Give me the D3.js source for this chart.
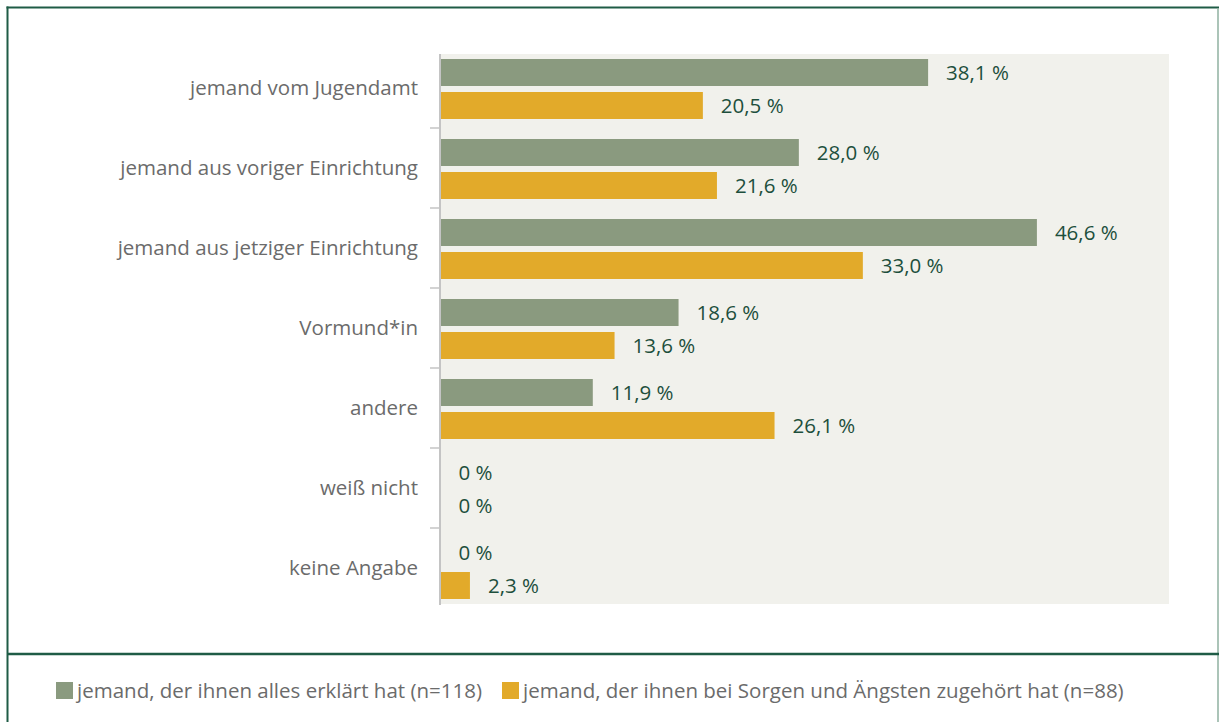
<!DOCTYPE html>
<html>
<head>
<meta charset="utf-8">
<script src="https://cdn.jsdelivr.net/npm/d3@7"></script>
<style>
  html, body { margin: 0; padding: 0; background: #ffffff; }
  svg { display: block; }
</style>
</head>
<body>
<svg id="chart" width="1219" height="722"></svg>
<script>
const categories = [
  "jemand vom Jugendamt",
  "jemand aus voriger Einrichtung",
  "jemand aus jetziger Einrichtung",
  "Vormund*in",
  "andere",
  "weiß nicht",
  "keine Angabe"
];
const seriesNames = [
  "jemand, der ihnen alles erklärt hat (n=118)",
  "jemand, der ihnen bei Sorgen und Ängsten zugehört hat (n=88)"
];
const explained = [38.1, 28.0, 46.6, 18.6, 11.9, 0, 0];
const listened = [20.5, 21.6, 33.0, 13.6, 26.1, 0, 2.3];
const seriesColors = ["#8a9a7f", "#e2aa2a"];

const svg = d3.select("#chart");
const FONT = "'Open Sans', Lato, sans-serif";
const FS = 20.5;

// frame
svg.append("line").attr("x1", 7.5).attr("x2", 7.5).attr("y1", 6.5).attr("y2", 722)
  .attr("stroke", "#1f5c46").attr("stroke-width", 2);
svg.append("line").attr("x1", 6.5).attr("x2", 1219).attr("y1", 7.5).attr("y2", 7.5)
  .attr("stroke", "#1f5c46").attr("stroke-width", 2);
svg.append("line").attr("x1", 1218).attr("x2", 1218).attr("y1", 8).attr("y2", 722)
  .attr("stroke", "#8fb0a0").attr("stroke-width", 1.5);
svg.append("line").attr("x1", 7).attr("x2", 1219).attr("y1", 654).attr("y2", 654)
  .attr("stroke", "#1f5c46").attr("stroke-width", 2.5);

const x = d3.scaleLinear().domain([0, 57]).range([440.5, 1170]);
const y = d3.scaleBand().domain(categories).range([48, 608]).paddingInner(0).paddingOuter(0);
const inner = d3.scaleBand().domain([0, 1]).range([11, 71]).paddingInner(6 / 33);

// plot background
svg.append("rect").attr("x", 440).attr("y", 54).attr("width", 1169 - 440).attr("height", 604 - 54)
  .attr("fill", "#f1f1ec");

const data = categories.map((c, i) => ({ cat: c, vals: [explained[i], listened[i]] }));

const groups = svg.append("g").selectAll("g").data(data).join("g")
  .attr("transform", d => `translate(0,${y(d.cat)})`);

groups.selectAll("rect").data(d => d.vals.map((v, k) => ({ v, k }))).join("rect")
  .attr("x", x(0))
  .attr("y", d => inner(d.k))
  .attr("height", inner.bandwidth())
  .attr("width", d => x(d.v) - x(0))
  .attr("fill", d => seriesColors[d.k]);

groups.selectAll("text.val").data(d => d.vals.map((v, k) => ({ v, k }))).join("text")
  .attr("class", "val")
  .attr("x", d => x(d.v) + 18)
  .attr("y", d => inner(d.k) + inner.bandwidth() / 2)
  .attr("dy", "0.35em")
  .attr("font-family", FONT)
  .attr("font-size", FS)
  .attr("fill", "#1d4f3c")
  .text(d => d.v === 0 ? "0 %" : d3.format(".1f")(d.v).replace(".", ",") + " %");

// y axis
const yAxis = d3.axisLeft(y).tickSize(0).tickPadding(22);
const ga = svg.append("g").attr("transform", "translate(440,0)").call(yAxis);
ga.select(".domain").remove();
ga.selectAll("text").attr("font-family", FONT).attr("font-size", FS).attr("fill", "#6b6b6b");

svg.append("line").attr("x1", 440).attr("x2", 440).attr("y1", 54).attr("y2", 605)
  .attr("stroke", "#c4c4c4").attr("stroke-width", 2);
svg.append("g").selectAll("line").data(categories.slice(1)).join("line")
  .attr("x1", 430).attr("x2", 440)
  .attr("y1", d => y(d)).attr("y2", d => y(d))
  .attr("stroke", "#c4c4c4").attr("stroke-width", 1.5);

// legend
const legendX = [56, 502];
const lg = svg.append("g").selectAll("g").data(seriesNames).join("g")
  .attr("transform", (d, i) => `translate(${legendX[i]},682)`);
lg.append("rect").attr("width", 17).attr("height", 17).attr("fill", (d, i) => seriesColors[i]);
lg.append("text").attr("x", 21).attr("y", 8.5).attr("dy", "0.35em")
  .attr("font-family", FONT).attr("font-size", FS).attr("fill", "#6b6b6b")
  .text(d => d);
</script>
</body>
</html>
